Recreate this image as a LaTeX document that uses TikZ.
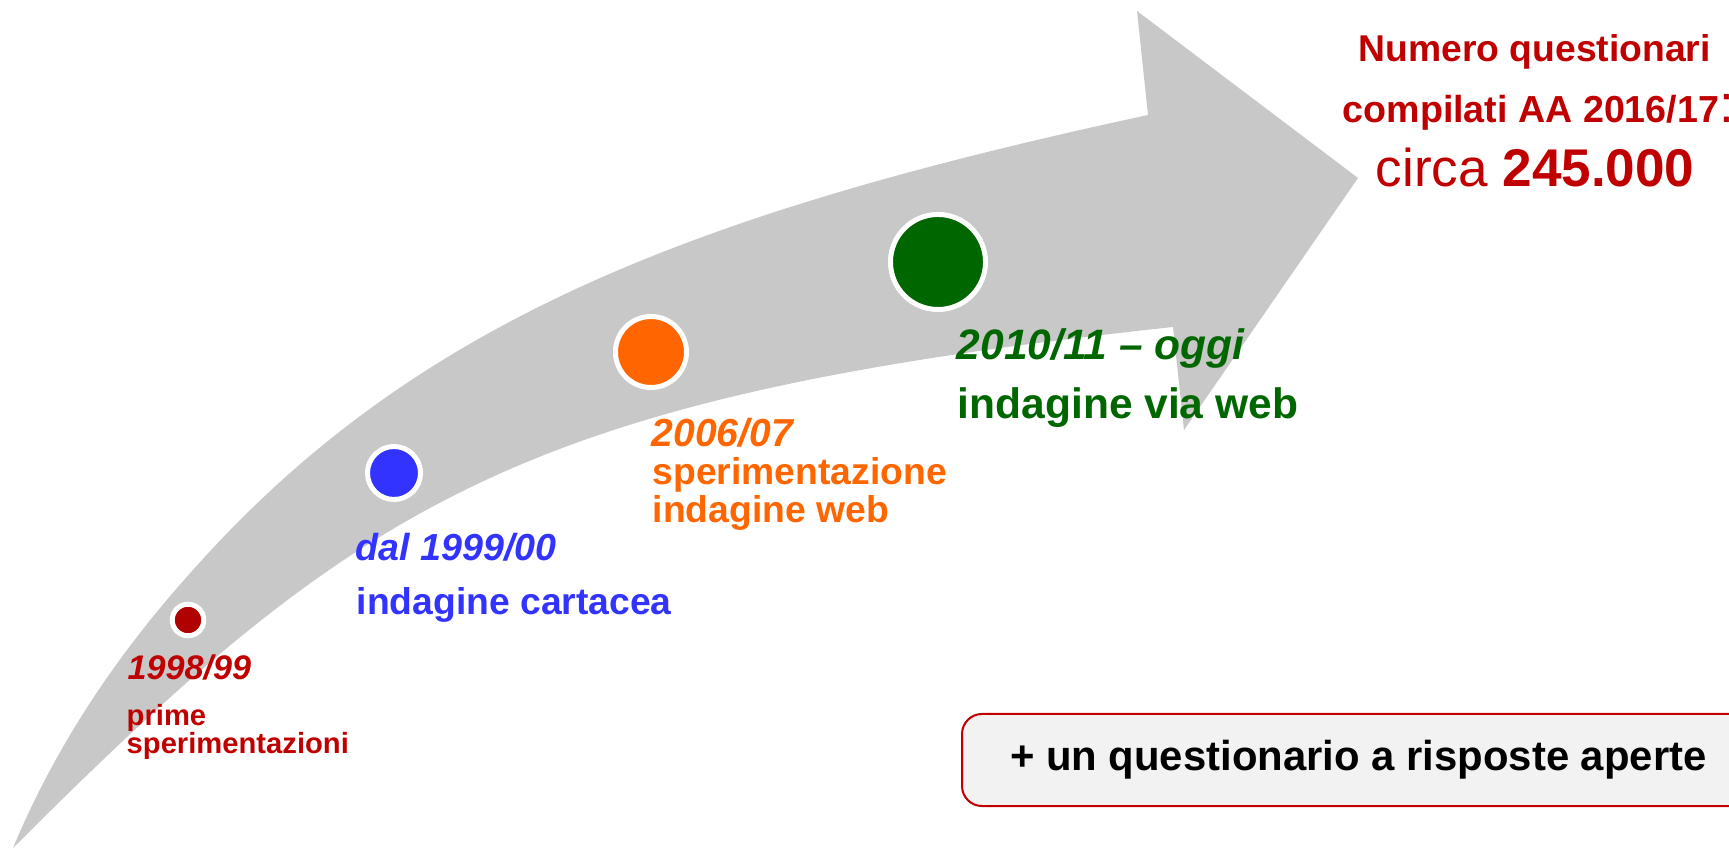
\documentclass[tikz,border=0pt]{standalone}
\usepackage{fontspec}
\setmainfont{Liberation Sans}
\usetikzlibrary{positioning}
\definecolor{darkred}{HTML}{C00000}
\definecolor{dotred}{HTML}{B00000}
\definecolor{paperblue}{HTML}{3333FF}
\definecolor{weborange}{HTML}{FF6600}
\definecolor{webgreen}{HTML}{006600}
\definecolor{arrowgrey}{HTML}{C8C8C8}
\definecolor{boxgrey}{HTML}{F2F2F2}
\tikzset{
    %Define style for the milestone dots
    milestone/.style={
           circle,
           draw=white, line width=0.05cm,
           inner sep=0pt},
    %Define style for the labels
    year/.style={
           anchor=base west,
           inner sep=0pt,
           font=\bfseries\itshape\fontsize{#1}{#1}\selectfont},
    phase/.style={
           anchor=base west,
           inner sep=0pt,
           font=\bfseries\fontsize{#1}{#1}\selectfont},
    % Define box style
    note/.style={
           rectangle,
           rounded corners=0.2cm,
           draw=darkred, line width=0.02cm,
           fill=boxgrey,
           inner xsep=0.48cm,
           minimum height=0.92cm,
           font=\bfseries\fontsize{11.9}{14}\selectfont}
}

\begin{document}
\begin{tikzpicture}[x=0.01cm,y=-0.01cm]
\useasboundingbox (0,0) rectangle (1729,849);
% curved arrow
\fill[arrowgrey] (13,848) .. controls (68,716) and (147,620) .. (202,560)
    .. controls (422,318) and (698,212) .. (1148,115)
    -- (1137,11) -- (1358,178) -- (1184,430) -- (1173,327)
    .. controls (523,397) and (363,498) .. (13,848) -- cycle;
% milestones
\node[milestone, fill=dotred, minimum size=0.315cm] (m1) at (188,620) {};
\node[milestone, fill=paperblue, minimum size=0.53cm] (m2) at (394,473) {};
\node[milestone, fill=weborange, minimum size=0.71cm] (m3) at (651,352) {};
\node[milestone, fill=webgreen, minimum size=0.95cm] (m4) at (938,262) {};
% labels
\node[year=9.7, text=darkred] (y1) at (127,680) {1998/99};
\node[phase=8.3, text=darkred] (p1a) at (126,726) {prime};
\node[phase=8.3, text=darkred] (p1b) at (126,754) {sperimentazioni};
\node[year=10.7, text=paperblue] (y2) at (355,561) {dal 1999/00};
\node[phase=10.6, text=paperblue] (p2) at (356,615) {indagine cartacea};
\node[year=11.1, text=weborange] (y3) at (651,447) {2006/07};
\node[phase=10.6, text=weborange] (p3a) at (652,485) {sperimentazione};
\node[phase=10.6, text=weborange] (p3b) at (652,523) {indagine web};
\node[year=12.1, text=webgreen] (y4) at (956,360) {2010/11 – oggi};
\node[phase=12.1, text=webgreen] (p4) at (957,419) {indagine via web};
% total
\node[phase=10.6, text=darkred] (t1) at (1358,62) {Numero questionari};
\node[phase=10.7, text=darkred] (t2) at (1342,123) {compilati AA 2016/17{\mdseries\fontsize{15.1}{15}\selectfont:}};
\node[phase=15.1, text=darkred] (t3) at (1375,187) {\mdseries circa \bfseries 245.000};
% open answers
\node[note, anchor=west] (open) at (961,760) {+ un questionario a risposte aperte};
\end{tikzpicture}
\end{document}
